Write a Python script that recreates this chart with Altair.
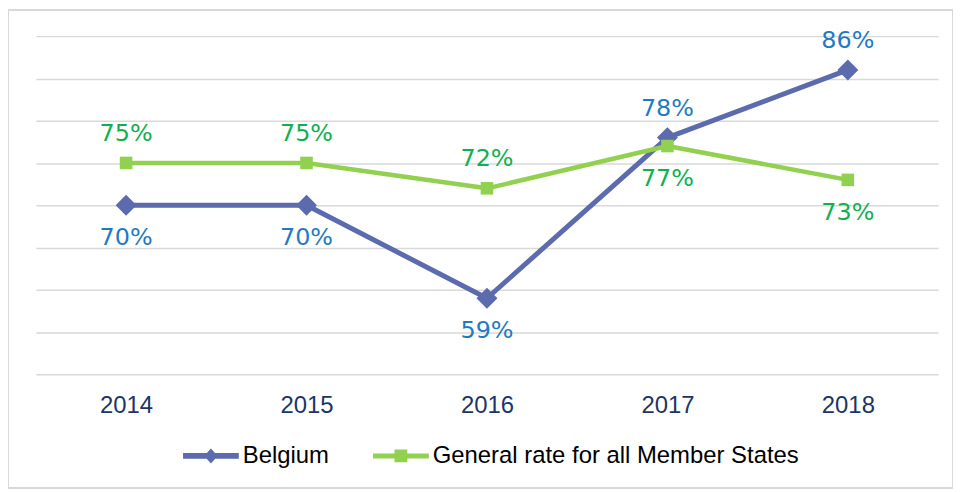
import altair as alt
import pandas as pd

years = ["2014", "2015", "2016", "2017", "2018"]
belgium = [70, 70, 59, 78, 86]
general = [75, 75, 72, 77, 73]
belgium_pos = ["below", "below", "below", "above", "above"]
general_pos = ["above", "above", "above", "below", "below"]
series_names = ["Belgium", "General rate for all Member States"]
grid_values = [50, 55, 60, 65, 70, 75, 80, 85, 90]

BLUE_LINE = "#5b6bae"
BLUE_TEXT = "#1f7bc1"
GREEN_LINE = "#92d050"
GREEN_TEXT = "#10b050"

rows = []
for y, v, p in zip(years, belgium, belgium_pos):
    rows.append({"year": y, "series": series_names[0], "value": v, "pos": p})
for y, v, p in zip(years, general, general_pos):
    rows.append({"year": y, "series": series_names[1], "value": v, "pos": p})
df = pd.DataFrame(rows)

W, H = 907, 340

x_enc = alt.X("year:O", sort=years, title=None,
              axis=alt.Axis(labelAngle=0, domain=False, ticks=False, grid=False,
                            labelFont="Liberation Sans", labelFontSize=24,
                            labelColor="#1c3566", labelPadding=19))
y_enc = alt.Y("value:Q", title=None,
              scale=alt.Scale(domain=[50, 90], nice=False, zero=False),
              axis=alt.Axis(values=grid_values, labels=False, domain=False, ticks=False,
                            grid=True, gridColor="#d9d9d9", gridWidth=1.5))

base = alt.Chart(df).encode(x=x_enc, y=y_enc)

line_b = base.transform_filter(alt.datum.series == series_names[0]).mark_line(
    color=BLUE_LINE, strokeWidth=5, strokeCap="round", strokeJoin="round")
pts_b = base.transform_filter(alt.datum.series == series_names[0]).mark_point(
    shape="diamond", filled=True, size=441, color=BLUE_LINE, opacity=1)
line_g = base.transform_filter(alt.datum.series == series_names[1]).mark_line(
    color=GREEN_LINE, strokeWidth=4.5, strokeCap="round", strokeJoin="round")
pts_g = base.transform_filter(alt.datum.series == series_names[1]).mark_point(
    shape="square", filled=True, size=160, color=GREEN_LINE, opacity=1)

text_color = alt.condition(alt.datum.series == series_names[0],
                           alt.value(BLUE_TEXT), alt.value(GREEN_TEXT))
lab_above = base.transform_filter(alt.datum.pos == "above").transform_calculate(
    lbl="format(datum.value, '.0f') + '%'").mark_text(
    font="DejaVu Sans", fontSize=24, dy=-29, baseline="middle", align="center"
).encode(text="lbl:N", color=text_color)
lab_below = base.transform_filter(alt.datum.pos == "below").transform_calculate(
    lbl="format(datum.value, '.0f') + '%'").mark_text(
    font="DejaVu Sans", fontSize=24, dy=33, baseline="middle", align="center"
).encode(text="lbl:N", color=text_color)

path_b = "M-1,-0.1L1,-0.1L1,0.1L-1,0.1Z M0,-0.27L0.24,0L0,0.27L-0.24,0Z"
path_g = "M-1,-0.09L1,-0.09L1,0.09L-1,0.09Z M-0.23,-0.23L0.23,-0.23L0.23,0.23L-0.23,0.23Z"

legend = alt.Legend(title=None, orient="none", legendX=148, legendY=394,
                    direction="horizontal", labelFont="Liberation Sans",
                    labelFontSize=24, labelColor="#000000", labelLimit=0,
                    symbolSize=3136, symbolStrokeWidth=0, labelOffset=4,
                    columnPadding=44, padding=0)

legend_layer = base.transform_filter("false").mark_point(filled=True, opacity=1).encode(
    color=alt.Color("series:N", scale=alt.Scale(domain=series_names,
                                                 range=[BLUE_LINE, GREEN_LINE]), legend=legend),
    shape=alt.Shape("series:N", scale=alt.Scale(domain=series_names,
                                                 range=[path_b, path_g]), legend=legend),
)

border = alt.Chart(df).mark_rect(fill="transparent", stroke="#d9d9d9", strokeWidth=1).encode(
    x=alt.value(-27.5), x2=alt.value(W + 14.5), y=alt.value(-26.5), y2=alt.value(H + 114.5))

chart = alt.layer(border, line_b, pts_b, line_g, pts_g, lab_above, lab_below, legend_layer).properties(
    width=W, height=H,
    autosize=alt.AutoSizeParams(type="none"),
    padding={"left": 28, "top": 27, "right": 15, "bottom": 116},
    background="white",
).configure_view(stroke=None)

chart.save("out.html", embed_options={"renderer": "svg", "actions": False})
